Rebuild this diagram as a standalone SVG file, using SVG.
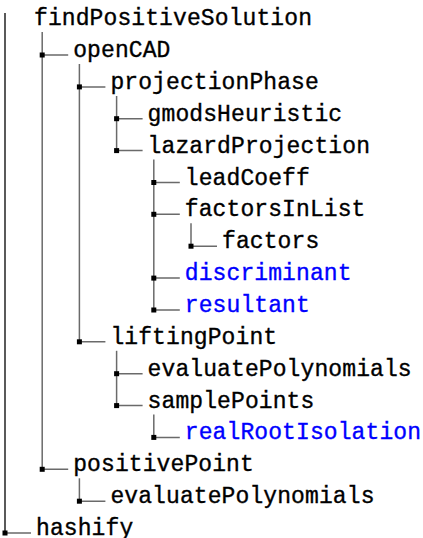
<svg xmlns="http://www.w3.org/2000/svg" width="423" height="538" viewBox="0 0 423 538">
<style>
.t{font-family:"Liberation Mono","DejaVu Sans Mono",monospace;font-size:23px;letter-spacing:0.1px;fill:#000;stroke:#000;stroke-width:0.35}
.b{fill:#0000ff;stroke:#0000ff}
.v{stroke:#6a6a6a;stroke-width:1.5;fill:none}
.r{stroke:#000;stroke-width:1.3;fill:none}
.h{stroke:#6a6a6a;stroke-width:1.5;fill:none}
.d{fill:#000}
</style>
<rect width="423" height="538" fill="#fff"/>
<g id="connectors">
<line class="r" x1="5" y1="13" x2="5" y2="533"/>
<line class="v" x1="42.2" y1="32" x2="42.2" y2="469.3"/>
<line class="v" x1="79.4" y1="64" x2="79.4" y2="341.8"/>
<line class="v" x1="116.6" y1="96" x2="116.6" y2="150.6"/>
<line class="v" x1="153.8" y1="159.6" x2="153.8" y2="310"/>
<line class="v" x1="191" y1="223.3" x2="191" y2="246.2"/>
<line class="v" x1="116.6" y1="350.8" x2="116.6" y2="405.6"/>
<line class="v" x1="153.8" y1="414.6" x2="153.8" y2="437.4"/>
<line class="v" x1="79.4" y1="478.3" x2="79.4" y2="501.2"/>
<path class="h" d="M42.2 55h26M79.4 86.9h26M116.6 118.7h26M116.6 150.6h26M153.8 182.5h26M153.8 214.3h26M191 246.2h26M153.8 278.1h26M153.8 310h26M79.4 341.8h26M116.6 373.7h26M116.6 405.6h26M153.8 437.4h26M42.2 469.3h26M79.4 501.2h26M5 533h26"/>
<g class="d">
<rect x="39.7" y="52.5" width="5" height="5"/>
<rect x="76.9" y="84.4" width="5" height="5"/>
<rect x="114.1" y="116.2" width="5" height="5"/>
<rect x="114.1" y="148.1" width="5" height="5"/>
<rect x="151.3" y="180" width="5" height="5"/>
<rect x="151.3" y="211.8" width="5" height="5"/>
<rect x="188.5" y="243.7" width="5" height="5"/>
<rect x="151.3" y="275.6" width="5" height="5"/>
<rect x="151.3" y="307.5" width="5" height="5"/>
<rect x="76.9" y="339.3" width="5" height="5"/>
<rect x="114.1" y="371.2" width="5" height="5"/>
<rect x="114.1" y="403.1" width="5" height="5"/>
<rect x="151.3" y="434.9" width="5" height="5"/>
<rect x="39.7" y="466.8" width="5" height="5"/>
<rect x="76.9" y="498.7" width="5" height="5"/>
<rect x="2.5" y="530.5" width="5" height="5"/>
</g>
</g>
<g id="n0"><text class="t" x="34" y="25">findPositiveSolution</text></g>
<g id="n1"><text class="t" x="73.2" y="57">openCAD</text></g>
<g id="n2"><text class="t" x="110.4" y="88.9">projectionPhase</text></g>
<g id="n3"><text class="t" x="147.6" y="120.7">gmodsHeuristic</text></g>
<g id="n4"><text class="t" x="147.6" y="152.6">lazardProjection</text></g>
<g id="n5"><text class="t" x="184.8" y="184.5">leadCoeff</text></g>
<g id="n6"><text class="t" x="184.8" y="216.3">factorsInList</text></g>
<g id="n7"><text class="t" x="222" y="248.2">factors</text></g>
<g id="n8"><text class="t b" x="184.8" y="280.1">discriminant</text></g>
<g id="n9"><text class="t b" x="184.8" y="312">resultant</text></g>
<g id="n10"><text class="t" x="110.4" y="343.8">liftingPoint</text></g>
<g id="n11"><text class="t" x="147.6" y="375.7">evaluatePolynomials</text></g>
<g id="n12"><text class="t" x="147.6" y="407.6">samplePoints</text></g>
<g id="n13"><text class="t b" x="184.8" y="439.4">realRootIsolation</text></g>
<g id="n14"><text class="t" x="73.2" y="471.3">positivePoint</text></g>
<g id="n15"><text class="t" x="110.4" y="503.2">evaluatePolynomials</text></g>
<g id="n16"><text class="t" x="36" y="535">hashify</text></g>
</svg>
